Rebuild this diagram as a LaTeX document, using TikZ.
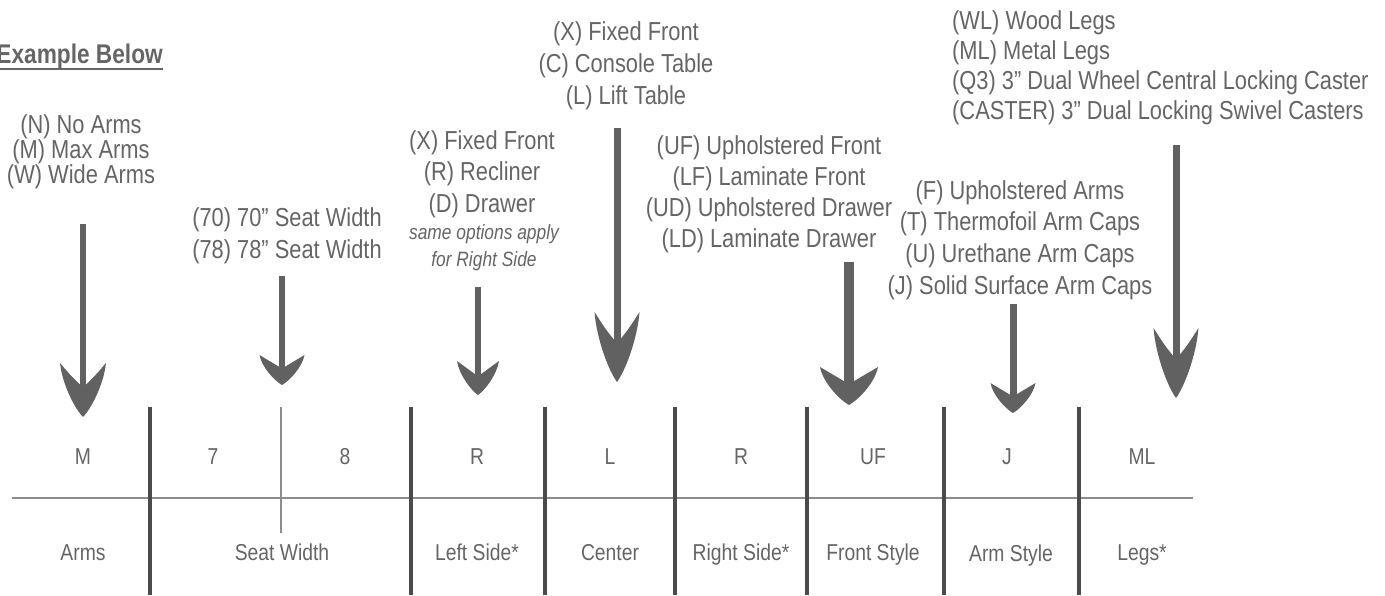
\documentclass[tikz,border=0pt]{standalone}
\usepackage{fontspec}
\setmainfont[FakeStretch=0.84]{Liberation Sans}
\definecolor{txt}{HTML}{656565}
\definecolor{arrowc}{HTML}{616161}
\definecolor{divc}{HTML}{4B4B4B}
\definecolor{linec}{HTML}{8C8C8C}
\newcommand\ahead[3]{%
  \fill[arrowc,shift={(#1)}] (0,0) .. controls ({-0.35*#3},{-0.15*#2}) and ({-0.9*#3},{-0.6*#2}) .. ({-#3},{-#2})
  .. controls ({-0.5*#3},{-0.75*#2}) .. (0,{-0.55*#2})
  .. controls ({0.5*#3},{-0.75*#2}) .. ({#3},{-#2})
  .. controls ({0.9*#3},{-0.6*#2}) and ({0.35*#3},{-0.15*#2}) .. (0,0) -- cycle;}
\tikzset{
  opt/.style={text=txt, align=center, inner sep=0pt},
  cell/.style={text=txt, inner sep=0pt, anchor=base, font=\fontsize{23}{27}\selectfont},
  shaft/.style={draw=arrowc},
  divider/.style={draw=divc, line width=4.5pt},
  rule/.style={draw=linec, line width=2.5pt},
}
\begin{document}
\begin{tikzpicture}[x=1pt,y=-1pt]
\useasboundingbox (0,0) rectangle (1385,595);
% title
\node[text=txt, inner sep=0pt, anchor=east, font=\fontsize{27}{32}\bfseries\selectfont] (t0) at (163,57) {Example Below};
\draw[draw=txt, line width=2pt] (-5,69) -- (163,69);
% option groups
\node[opt, font=\fontsize{26}{23}\selectfont] (t1) at (81,152) {(N) No Arms\\(M) Max Arms\\(W) Wide Arms};
\node[opt, font=\fontsize{26}{32}\selectfont] (t2) at (287,236) {(70) 70” Seat Width\\(78) 78” Seat Width};
\node[opt, font=\fontsize{26}{31.5}\selectfont] (t3) at (482,174) {(X) Fixed Front\\(R) Recliner\\(D) Drawer};
\node[opt, font=\fontsize{20.7}{27}\itshape\selectfont] (t3b) at (484,248) {same options apply\\for Right Side};
\node[opt, font=\fontsize{26}{32}\selectfont] (t4) at (626,66) {(X) Fixed Front\\(C) Console Table\\(L) Lift Table};
\node[opt, font=\fontsize{26}{31}\selectfont] (t5) at (769,194) {(UF) Upholstered Front\\(LF) Laminate Front\\(UD) Upholstered Drawer\\(LD) Laminate Drawer};
\node[opt, font=\fontsize{26}{31.7}\selectfont] (t6) at (1020,240) {(F) Upholstered Arms\\(T) Thermofoil Arm Caps\\(U) Urethane Arm Caps\\(J) Solid Surface Arm Caps};
\node[opt, align=left, anchor=west, font=\fontsize{26}{30}\selectfont] (t7) at (952,68) {(WL) Wood Legs\\(ML) Metal Legs\\(Q3) 3” Dual Wheel Central Locking Caster\\(CASTER) 3” Dual Locking Swivel Casters};
% arrows
\coordinate (a1top) at (83,224);  \coordinate (a1tip) at (83,417);
\coordinate (a2top) at (282,276); \coordinate (a2tip) at (282,385);
\coordinate (a3top) at (478,287); \coordinate (a3tip) at (478,395);
\coordinate (a4top) at (617,128); \coordinate (a4tip) at (617,382);
\coordinate (a5top) at (849,262); \coordinate (a5tip) at (849,405);
\coordinate (a6top) at (1013,304);\coordinate (a6tip) at (1013,413);
\coordinate (a7top) at (1176,145);\coordinate (a7tip) at (1176,398);
\draw[shaft, line width=6pt] (a1top) -- ([yshift=25pt]a1tip); \ahead{a1tip}{54}{23}
\draw[shaft, line width=6pt] (a2top) -- ([yshift=14pt]a2tip); \ahead{a2tip}{30}{22.5}
\draw[shaft, line width=6pt] (a3top) -- ([yshift=16pt]a3tip); \ahead{a3tip}{34}{21}
\draw[shaft, line width=7pt] (a4top) -- ([yshift=34pt]a4tip); \ahead{a4tip}{70}{22.5}
\draw[shaft, line width=10pt] (a5top) -- ([yshift=18pt]a5tip); \ahead{a5tip}{38}{29}
\draw[shaft, line width=7pt] (a6top) -- ([yshift=14pt]a6tip); \ahead{a6tip}{30}{22.5}
\draw[shaft, line width=7pt] (a7top) -- ([yshift=34pt]a7tip); \ahead{a7tip}{70}{22.5}
% table
\draw[rule] (12,498) -- (1193,498);
\draw[draw=linec, line width=2pt] (281,407) -- (281,533);
\foreach \x in {150,411,545,675,807,944,1079} \draw[divider] (\x,407) -- (\x,595);
% cells (baseline aligned)
\node[cell] (c1) at (83,464) {M};
\node[cell] (c2a) at (213,464) {7};
\node[cell] (c2b) at (345,464) {8};
\node[cell] (c3) at (477,464) {R};
\node[cell] (c4) at (610,464) {L};
\node[cell] (c5) at (741,464) {R};
\node[cell] (c6) at (873,464) {UF};
\node[cell] (c7) at (1007,464) {J};
\node[cell] (c8) at (1142,464) {ML};
\node[cell] (l1) at (83,560) {Arms};
\node[cell] (l2) at (282,560) {Seat Width};
\node[cell] (l3) at (477,560) {Left Side*};
\node[cell] (l4) at (610,560) {Center};
\node[cell] (l5) at (741,560) {Right Side*};
\node[cell] (l6) at (873,560) {Front Style};
\node[cell] (l7) at (1011,561) {Arm Style};
\node[cell] (l8) at (1142,560) {Legs*};
\end{tikzpicture}
\end{document}
